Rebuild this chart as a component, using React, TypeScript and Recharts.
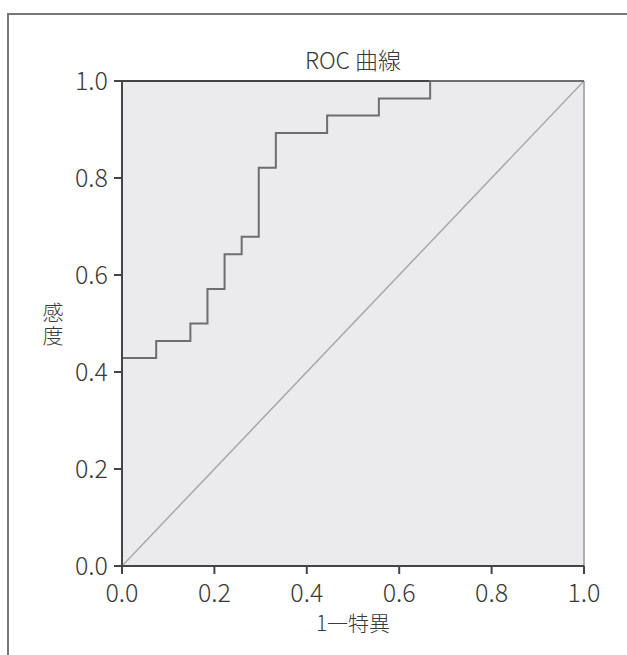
import { LineChart, Line, XAxis, YAxis, CartesianGrid, ReferenceLine } from 'recharts';

// 1 - specificity at each step of the ROC curve
const falsePositiveRate = [0, 0, 0.074, 0.148, 0.185, 0.222, 0.259, 0.296, 0.333, 0.444, 0.556, 0.667, 1];
// sensitivity reached at each step
const sensitivity = [0, 0.429, 0.464, 0.5, 0.571, 0.643, 0.679, 0.821, 0.893, 0.929, 0.964, 1.0, 1.0];

const diagonalX = [0, 1];
const diagonalY = [0, 1];

const tickValues = [0, 0.2, 0.4, 0.6, 0.8, 1.0];

const rocData = falsePositiveRate.map((x, i) => ({ x, y: sensitivity[i] }));
const diagonalData = diagonalX.map((x, i) => ({ x, y: diagonalY[i] }));

const font = "'Noto Sans CJK JP', 'Noto Sans', sans-serif";
const textColor = '#3a3a3a';

const fmt = (v: number) => v.toFixed(1);

// vertical label, one text element written top to bottom
const YLabel = ({ viewBox }: any) => {
  const top = viewBox ? viewBox.y + viewBox.height / 2 - 22 : 301;
  return (
    <text
      x={53}
      y={top}
      fill={textColor}
      fontSize={21}
      fontFamily={font}
      fontWeight={300}
      letterSpacing={2}
      style={{ writingMode: 'vertical-rl' }}
    >
      感度
    </text>
  );
};

const XLabel = ({ viewBox }: any) => {
  const cx = viewBox ? viewBox.x + viewBox.width / 2 : 353;
  return (
    <text x={cx} y={631} textAnchor="middle" fill={textColor} fontSize={21} fontFamily={font} fontWeight={300}>
      1一特異
    </text>
  );
};

export default function App() {
  return (
    <div style={{ position: 'absolute', left: 0, top: 0, width: 627, height: 655, background: '#fff', fontFamily: font }}>
      <div style={{ position: 'absolute', left: 7, top: 13, width: 620, height: 640, borderLeft: '2px solid #777', borderTop: '2px solid #777' }} />
      <div style={{ position: 'absolute', left: 122, width: 462, top: 47, lineHeight: '24px', textAlign: 'center', fontSize: 23, color: textColor, fontWeight: 300 }}>
        ROC 曲線
      </div>
      <div style={{ position: 'absolute', left: 0, top: 0 }}>
        <LineChart width={627} height={655} margin={{ top: 81, right: 43, bottom: 17, left: 0 }}>
          <CartesianGrid horizontal={false} vertical={false} fill="#EBEBED" />
          <XAxis
            type="number"
            dataKey="x"
            domain={[0, 1]}
            ticks={tickValues}
            tickFormatter={fmt}
            height={72}
            tickSize={8}
            tickMargin={10}
            stroke="#444"
            strokeWidth={2}
            tick={{ fill: textColor, fontSize: 25, fontFamily: font, fontWeight: 300 }}
            label={<XLabel />}
            allowDataOverflow
          />
          <YAxis
            type="number"
            dataKey="y"
            domain={[0, 1]}
            ticks={tickValues}
            tickFormatter={fmt}
            width={122}
            tickSize={8}
            tickMargin={6}
            stroke="#444"
            strokeWidth={2}
            tick={{ fill: textColor, fontSize: 25, fontFamily: font, fontWeight: 300 }}
            label={<YLabel />}
          />
          <ReferenceLine y={1} stroke="#444" strokeWidth={2} />
          <ReferenceLine x={1} stroke="#999" strokeWidth={1.5} />
          <Line
            data={diagonalData}
            dataKey="y"
            type="linear"
            stroke="#a8a8a8"
            strokeWidth={1.5}
            dot={false}
            isAnimationActive={false}
          />
          <Line
            data={rocData}
            dataKey="y"
            type="stepAfter"
            stroke="#6e6e6e"
            strokeWidth={2}
            dot={false}
            isAnimationActive={false}
          />
        </LineChart>
      </div>
    </div>
  );
}
